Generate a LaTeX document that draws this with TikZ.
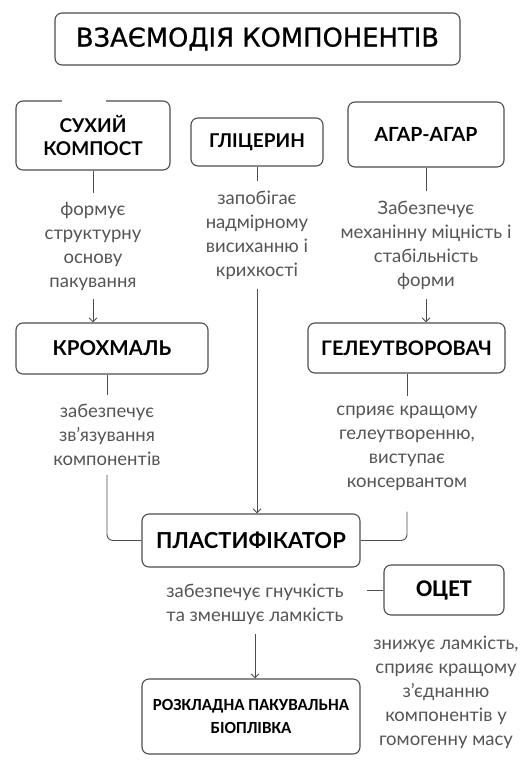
\documentclass[tikz,border=0pt]{standalone}
\usepackage{fontspec}
\setmainfont{Lato}
\newfontfamily\titlefont{DejaVu Sans}[FakeBold=0.8]
\newfontfamily\calfont{Carlito}
\usetikzlibrary{arrows.meta}
\definecolor{linegray}{HTML}{4D4D4D}
\definecolor{notegray}{HTML}{555555}

\begin{document}
\begin{tikzpicture}[x=1pt, y=-1pt,
    box/.style={draw=linegray, line width=1.1pt, rounded corners=7pt, align=center, inner sep=0pt,
        font=\bfseries\fontsize{20}{23}\selectfont},
    note/.style={align=center, inner xsep=0pt, inner ysep=9pt, text=notegray,
        font=\fontsize{18.5}{24}\selectfont},
    link/.style={draw=linegray, line width=0.9pt},
    arrow/.style={link, -{Straight Barb[length=4pt, width=8pt]}}
]

    \fill[white] (0,0) rectangle (529,761);
    \useasboundingbox (0,0) rectangle (529,761);

    % Title
    \node[box, minimum width=405pt, minimum height=52pt, font=\titlefont\fontsize{25.8}{27}\selectfont]
        (title) at (257.5,39) {ВЗАЄМОДІЯ КОМПОНЕНТІВ};

    % Top row of components
    \node[box, minimum width=154pt, minimum height=69pt, font=\bfseries\fontsize{19}{23}\selectfont]
        (suhyi) at (93,135.5) {СУХИЙ\\КОМПОСТ};
    \draw[white, line width=3pt] ([xshift=-31pt]suhyi.north) -- ([xshift=13pt]suhyi.north);
    \node[box, minimum width=132pt, minimum height=48pt, font=\bfseries\fontsize{19}{23}\selectfont]
        (glic) at (257,142) {ГЛІЦЕРИН};
    \node[box, minimum width=156pt, minimum height=65pt, font=\bfseries\fontsize{19.5}{23}\selectfont]
        (agar) at (426,134.5) {АГАР-АГАР};

    % What they do
    \node[note] (suhyi-txt) at (93,246) {формує\\структурну\\основу\\пакування};
    \node[note] (glic-txt) at (257,235) {запобігає\\надмірному\\висиханню і\\крихкості};
    \node[note] (agar-txt) at (426,245) {Забезпечує\\механінну міцність і\\стабільність\\форми};

    % Second row
    \node[box, minimum width=192pt, minimum height=51pt, font=\bfseries\fontsize{20.5}{23}\selectfont]
        (krohm) at (112,348.5) {КРОХМАЛЬ};
    \node[box, minimum width=197pt, minimum height=50pt] (gel) at (406.5,348) {ГЕЛЕУТВОРОВАЧ};

    \node[note] (krohm-txt) at (107,435) {забезпечує\\зв’язування\\компонентів};
    \node[note] (gel-txt) at (407,448) {сприяє кращому\\гелеутворенню,\\виступає\\консервантом};

    % Plasticizer
    \node[box, minimum width=218pt, minimum height=53pt, font=\bfseries\fontsize{22}{23}\selectfont]
        (plast) at (251,540.5) {ПЛАСТИФІКАТОР};
    \node[note] (plast-txt) at (255,604) {забезпечує гнучкість\\та зменшує ламкість};

    % Vinegar
    \node[box, minimum width=120pt, minimum height=50pt, font=\calfont\bfseries\fontsize{24}{26}\selectfont]
        (ocet) at (444,590) {ОЦЕТ};
    \node[note] (ocet-txt) at (446,692) {знижує ламкість,\\сприяє кращому\\з’єднанню\\компонентів у\\гомогенну масу};

    % Result
    \node[box, minimum width=218pt, minimum height=75pt, font=\calfont\bfseries\fontsize{17}{23}\selectfont]
        (final) at (251,716.5) {РОЗКЛАДНА ПАКУВАЛЬНА\\БІОПЛІВКА};

    % Short lines under the boxes
    \foreach \a/\b in {suhyi/suhyi-txt, glic/glic-txt, agar/agar-txt, krohm/krohm-txt, gel/gel-txt} {
        \draw[link] (\a.south -| \b) -- (\b);
    }

    % Arrows
    \draw[arrow] (suhyi-txt) -- (suhyi-txt |- krohm.north);
    \draw[arrow] (agar-txt) -- (agar-txt |- gel.north);
    \draw[arrow] (glic-txt) -- (glic-txt |- plast.north);
    \draw[link, rounded corners=6pt] (krohm-txt.south) |- (plast.west);
    \draw[link, rounded corners=6pt, shorten <=12pt] (gel-txt.south) |- (plast.east);
    \draw[arrow] (plast-txt) -- (plast-txt |- final.north);
    \draw[link] (ocet.west) -- ++(-16,0);

\end{tikzpicture}
\end{document}
